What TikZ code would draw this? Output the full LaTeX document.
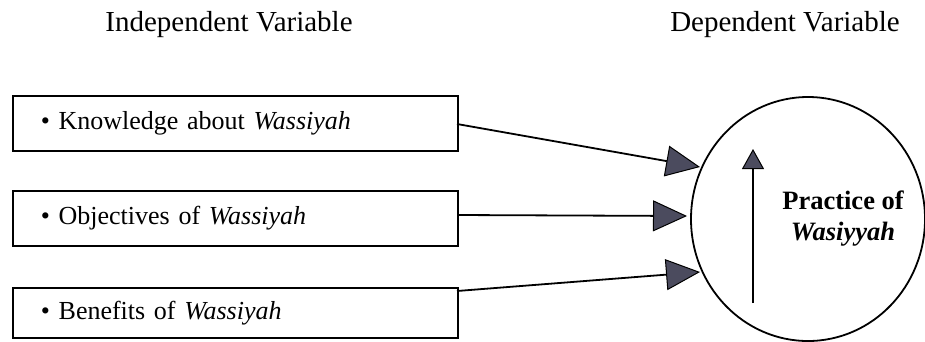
\documentclass[tikz,border=0pt]{standalone}
\usepackage{fontspec}
\setmainfont{Liberation Serif}
\usetikzlibrary{arrows.meta,shapes.geometric}
\definecolor{headgray}{HTML}{4B4B5E}
\tikzset{
  varbox/.style={draw=black, line width=1.8pt, rectangle, anchor=north west,
    minimum height=55pt, text width=389pt, inner xsep=28pt, inner ysep=0pt,
    align=left, font=\fontsize{26}{30}\selectfont},
  header/.style={anchor=base, font=\fontsize{29}{33}\selectfont, inner sep=0pt},
  bigarrow/.style={draw=black, line width=1.8pt,
    -{Triangle[length=34pt,width=31pt,fill=headgray,line width=1pt]}},
  uparrow/.style={draw=black, line width=1.8pt,
    -{Triangle[length=20pt,width=22pt,fill=headgray,line width=1pt]}},
}
\begin{document}
\begin{tikzpicture}[x=1pt,y=-1pt]
\useasboundingbox (0,0) rectangle (925,341);
\fill[white] (0,0) rectangle (925,341);

\node[header] (hi) at (229,31) {Independent Variable};
\node[header] (hd) at (785,31) {Dependent Variable};

\node[varbox, minimum width=445pt] (b1) at (12,95) {• Knowledge about \textit{Wassiyah}};
\node[varbox, minimum width=445pt] (b2) at (12,190) {• Objectives of \textit{Wassiyah}};
\node[varbox, minimum width=445pt, minimum height=50pt] (b3) at (12,287) {• Benefits of \textit{Wassiyah}};

\node[draw=black, line width=1.8pt, ellipse, minimum width=234pt, minimum height=244pt, inner sep=0pt] (c) at (808,219) {};
\node[font=\fontsize{26.5}{31}\selectfont\bfseries, align=center, anchor=base] (t1) at (843,209) {Practice of};
\node[font=\fontsize{26.5}{31}\selectfont\bfseries\itshape, anchor=base] (t2) at (843,240) {Wasiyyah};

\coordinate (s1) at (457,124);
\coordinate (s2) at (457,215);
\coordinate (s3) at (457,291);
\coordinate (e1) at (700,167);
\coordinate (e2) at (687,216);
\coordinate (e3) at (700,272);
\draw[bigarrow] (s1) -- (e1);
\draw[bigarrow] (s2) -- (e2);
\draw[bigarrow] (s3) -- (e3);

\coordinate (u0) at (753,303);
\coordinate (u1) at (753,149);
\draw[uparrow] (u0) -- (u1);
\end{tikzpicture}
\end{document}
